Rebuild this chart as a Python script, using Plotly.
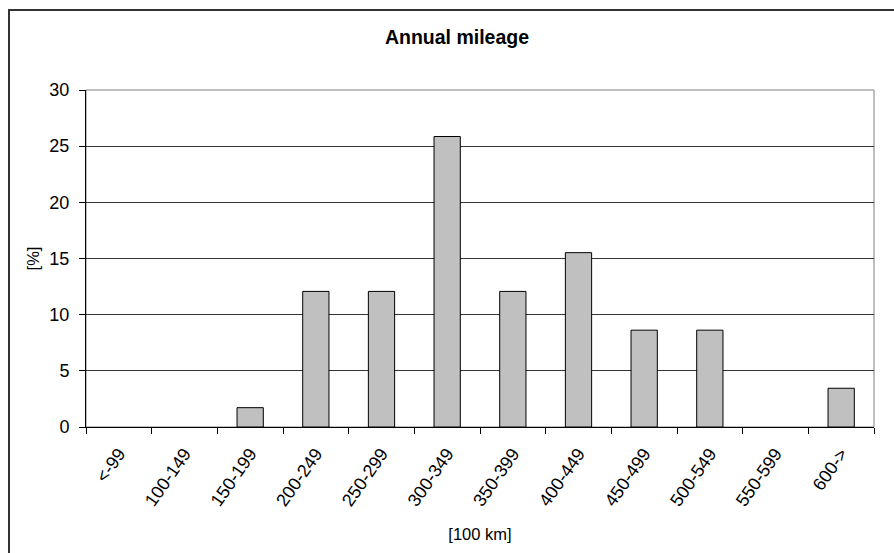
import plotly.graph_objects as go

# Annual mileage distribution, share of vehicles per class
categories = ["<-99", "100-149", "150-199", "200-249", "250-299", "300-349",
              "350-399", "400-449", "450-499", "500-549", "550-599", "600->"]
share_pct = [0.0, 0.0, 1.72, 12.07, 12.07, 25.86, 12.07, 15.52, 8.62, 8.62, 0.0, 3.45]
y_ticks = [0, 5, 10, 15, 20, 25, 30]

W, H = 894, 553
L, R, T, B = 86, 20, 90, 126
FONT = "Liberation Sans, Arial, sans-serif"

# empty classes get no outline so nothing is drawn on the baseline
outline_w = [1 if v > 0 else 0 for v in share_pct]

fig = go.Figure(go.Bar(
    x=categories,
    y=share_pct,
    marker=dict(color="#C0C0C0", line=dict(color="#000000", width=outline_w)),
    hoverinfo="x+y",
))

pw = W - L - R
ph = H - T - B

def px_x(p):
    return (p - L) / pw

def px_y(p):
    return (H - B - p) / ph

fig.update_layout(
    width=W, height=H,
    margin=dict(l=L, r=R, t=T, b=B),
    paper_bgcolor="white", plot_bgcolor="white",
    bargap=0.6,
    showlegend=False,
    font=dict(family=FONT, color="#000000"),
    title=dict(text="<b>Annual mileage</b>", x=px_x(457), xref="paper", xanchor="center",
               y=1 - 37 / H, yanchor="middle", font=dict(size=19.5, family=FONT)),
    xaxis=dict(
        type="category",
        tickangle=-55,
        tickson="boundaries",
        ticks="outside", ticklen=6, tickcolor="#000000",
        ticklabelstandoff=8,
        showline=True, linecolor="#000000", linewidth=1,
        showgrid=False,
        tickfont=dict(size=18, family=FONT),
        title=dict(text="[100 km]", font=dict(size=16.5, family=FONT), standoff=19),
    ),
    yaxis=dict(
        range=[0, 30],
        tickvals=y_ticks,
        ticks="outside", ticklen=6, tickcolor="#000000",
        ticklabelstandoff=6,
        showline=True, linecolor="#000000", linewidth=1,
        showgrid=True, gridcolor="#333333", gridwidth=1,
        zeroline=False,
        tickfont=dict(size=18, family=FONT),
        title=dict(text="[%]", font=dict(size=16.5, family=FONT), standoff=5),
    ),
    shapes=[
        # plot area frame
        dict(type="rect", xref="paper", yref="paper", x0=0, x1=1, y0=0, y1=1,
             line=dict(color="#808080", width=1), layer="below"),
        # chart area frame
        dict(type="rect", xref="paper", yref="paper",
             x0=px_x(9), x1=px_x(W + 20), y0=px_y(H + 20), y1=px_y(10),
             line=dict(color="#333333", width=2)),
    ],
)

fig.write_html("out.html")
